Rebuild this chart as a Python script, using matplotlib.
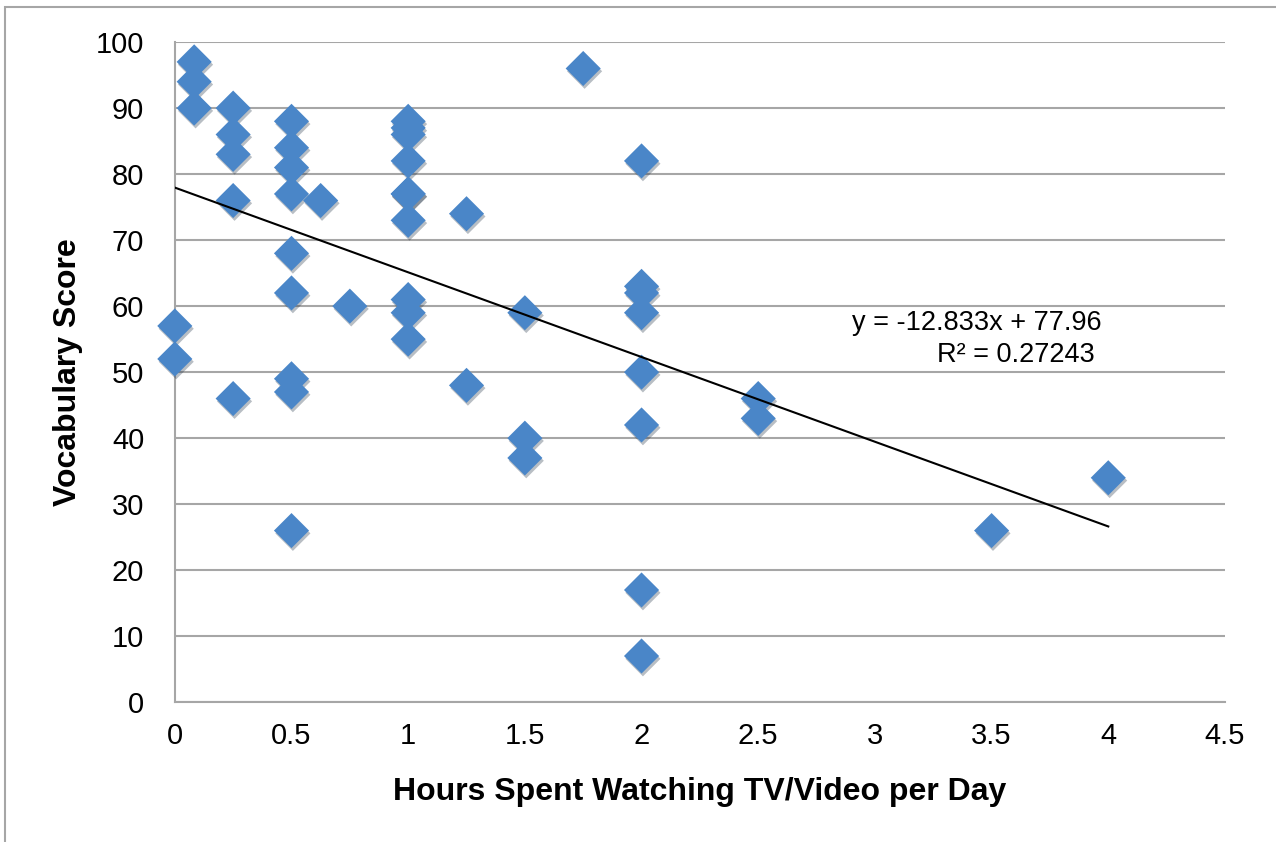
"""
Vocabulary score vs. daily TV/video hours, with linear trendline (Excel style)
"""
import numpy as np
import matplotlib.pyplot as plt
import matplotlib.patheffects as pe
from matplotlib.patches import Rectangle

plt.rcParams['font.family'] = ['Liberation Sans', 'DejaVu Sans']

# data
hours = [0, 0,
         0.083, 0.083, 0.083,
         0.25, 0.25, 0.25, 0.25, 0.25,
         0.5, 0.5, 0.5, 0.5, 0.5, 0.5, 0.5, 0.5, 0.5,
         0.625, 0.75,
         1, 1, 1, 1, 1, 1, 1, 1, 1, 1,
         1.25, 1.25,
         1.5, 1.5, 1.5,
         1.75,
         2, 2, 2, 2, 2, 2, 2, 2,
         2.5, 2.5,
         3.5, 4]
scores = [57, 52,
          97, 94, 90,
          90, 86, 83, 76, 46,
          88, 84, 81, 77, 68, 62, 49, 47, 26,
          76, 60,
          88, 87, 86, 82, 77, 77, 73, 61, 59, 55,
          74, 48,
          59, 40, 37,
          96,
          82, 63, 62, 59, 50, 42, 17, 7,
          46, 43,
          26, 34]

slope = -12.833
intercept = 77.96
r2 = 0.27243
trend_x = [0, 4]

x_ticks = [0, 0.5, 1, 1.5, 2, 2.5, 3, 3.5, 4, 4.5]
y_ticks = list(range(0, 101, 10))

grey = '#a6a6a6'
blue = '#4a86c8'

fig = plt.figure(figsize=(12.76, 8.42), dpi=100)
ax = fig.add_axes([0.137, 0.166, 0.823, 0.784])

# chart-area border (top/left visible only)
fig.patches.append(Rectangle((5 / 1276, -0.1), 2, 1 - 7 / 842 + 0.1,
                             transform=fig.transFigure, fill=False,
                             edgecolor=grey, linewidth=1.5))

ax.scatter(hours, scores, marker='D', s=320, color=blue, zorder=3,
           linewidths=0, clip_on=False,
           path_effects=[pe.SimplePatchShadow(offset=(1, -2), alpha=0.3),
                         pe.Normal()])

tx = np.array(trend_x)
ax.plot(tx, slope * tx + intercept, color='black', linewidth=1.5, zorder=4)

ax.text(3.97, 57.5, f'y = {slope}x + {intercept}', fontsize=19.5,
        ha='right', va='center')
ax.text(3.94, 52.6, f'R² = {r2}', fontsize=19.5, ha='right', va='center')

ax.set_xlim(0, 4.5)
ax.set_ylim(0, 100)
ax.set_xticks(x_ticks)
ax.set_xticklabels([f'{v:g}' for v in x_ticks])
ax.set_yticks(y_ticks)
ax.grid(axis='y', color=grey, linewidth=1.5)
ax.set_axisbelow(True)

for s in ['top', 'right']:
    ax.spines[s].set_visible(False)
ax.spines['left'].set_color(grey)
ax.spines['bottom'].set_color(grey)
ax.spines['left'].set_linewidth(1.5)
ax.spines['bottom'].set_linewidth(1.5)

ax.tick_params(axis='y', length=0, labelsize=21, pad=22)
ax.tick_params(axis='x', length=0, labelsize=21, pad=14)

ax.set_xlabel('Hours Spent Watching TV/Video per Day', fontsize=23,
              fontweight='bold', labelpad=20)
ax.set_ylabel('Vocabulary Score', fontsize=23, fontweight='bold', labelpad=9)

fig.savefig('out.png', dpi=100)
